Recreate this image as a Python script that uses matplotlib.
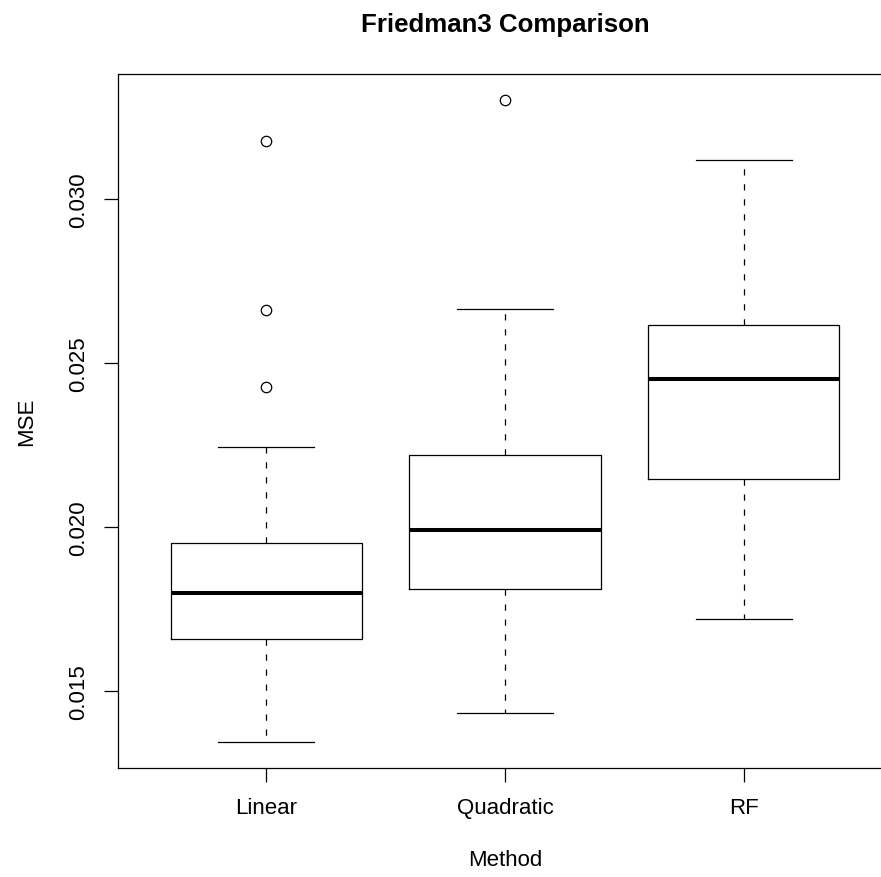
import matplotlib
matplotlib.use("Agg")
import matplotlib.pyplot as plt

# MSE summary per method (five-number summary + outliers)
methods = ["Linear", "Quadratic", "RF"]
whislo = [0.01343, 0.01432, 0.01720]
q1 = [0.01657, 0.01809, 0.02147]
med = [0.01798, 0.01989, 0.02451]
q3 = [0.01951, 0.02218, 0.02614]
whishi = [0.02243, 0.02663, 0.03117]
fliers = [[0.02426, 0.02661, 0.03176], [0.03302], []]

yticks = [0.015, 0.020, 0.025, 0.030]

plt.rcParams["font.family"] = ["Liberation Sans", "DejaVu Sans"]
plt.rcParams["lines.scale_dashes"] = False

fig = plt.figure(figsize=(8.81, 8.78), dpi=100)
ax = fig.add_axes([118 / 881, 109 / 878, 774 / 881, 694 / 878])

stats = []
for i in range(len(methods)):
    stats.append({
        "label": methods[i],
        "whislo": whislo[i], "q1": q1[i], "med": med[i],
        "q3": q3[i], "whishi": whishi[i], "fliers": fliers[i],
    })

ax.bxp(stats, positions=[1, 2, 3], widths=0.8, capwidths=0.4,
       boxprops=dict(color="black", linewidth=0.9),
       medianprops=dict(color="black", linewidth=2.9, solid_capstyle="butt"),
       whiskerprops=dict(color="black", linewidth=0.9, linestyle=(0, (4.5, 6.3))),
       capprops=dict(color="black", linewidth=0.9),
       flierprops=dict(marker="o", markersize=7.5, markerfacecolor="none",
                       markeredgecolor="black", markeredgewidth=0.9))

# R-style 4% padding around the data range
ymin, ymax = min(whislo), max(max(f) for f in fliers if f)
pad = (ymax - ymin) * 0.04
ax.set_ylim(ymin - pad, ymax + pad)
ax.set_xlim(0.38, 3.62)

ax.set_yticks(yticks)
ax.set_yticklabels([f"{t:.3f}" for t in yticks], rotation=90, va="center")
ax.set_xticks([1, 2, 3])
ax.set_xticklabels(methods)
ax.tick_params(axis="both", length=10, width=0.9, labelsize=16, pad=11)

for s in ax.spines.values():
    s.set_linewidth(0.9)

ax.set_title("Friedman3 Comparison", fontsize=18.6, fontweight="bold", pad=31)
ax.set_xlabel("Method", fontsize=16, labelpad=22)
ax.set_ylabel("MSE", fontsize=16, labelpad=22)

fig.savefig("out.png", dpi=100)
